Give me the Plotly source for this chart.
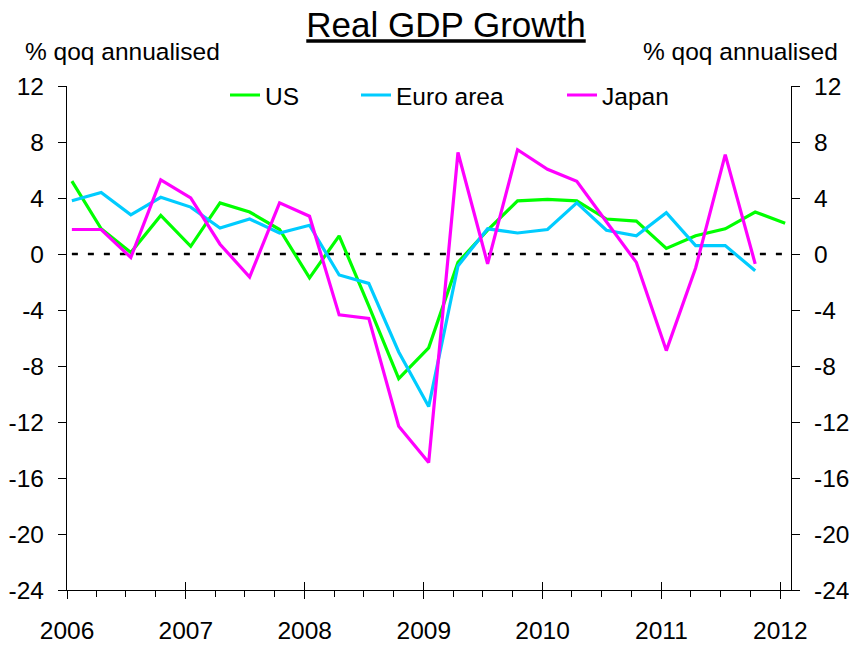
import pandas as pd
import plotly.graph_objects as go

# ---- data ----
quarters = ["2006Q1", "2006Q2", "2006Q3", "2006Q4",
            "2007Q1", "2007Q2", "2007Q3", "2007Q4",
            "2008Q1", "2008Q2", "2008Q3", "2008Q4",
            "2009Q1", "2009Q2", "2009Q3", "2009Q4",
            "2010Q1", "2010Q2", "2010Q3", "2010Q4",
            "2011Q1", "2011Q2", "2011Q3", "2011Q4",
            "2012Q1"]

us = [5.2, 1.8, 0.1, 2.75, 0.55, 3.65, 3.0, 1.75,
      -1.7, 1.3, -3.7, -8.9, -6.7, -0.6, 1.7, 3.8,
      3.9, 3.8, 2.5, 2.35, 0.4, 1.3, 1.8, 3.0, 2.2]

euro_area = [3.8, 4.4, 2.8, 4.05, 3.35, 1.85, 2.5, 1.5,
             2.05, -1.5, -2.1, -7.0, -10.9, -0.85, 1.8, 1.5,
             1.75, 3.65, 1.7, 1.3, 2.95, 0.6, 0.6, -1.2]

japan = [1.75, 1.75, -0.25, 5.3, 4.0, 0.7, -1.65, 3.65,
         2.7, -4.35, -4.6, -12.3, -14.9, 7.25, -0.7, 7.45,
         6.05, 5.2, 2.3, -0.6, -6.9, -1.0, 7.1, -0.7]

y_tickvals = [12, 8, 4, 0, -4, -8, -12, -16, -20, -24]
y_ticktext = ["12", "8", "4", "0", "-4", "-8", "-12", "-16", "-20", "-24"]

title_text = "Real GDP Growth"
axis_unit = "% qoq annualised"

# ---- build dates (quarter start + half month) ----
def q_to_date(q):
    y, n = int(q[:4]), int(q[5])
    return pd.Timestamp(year=y, month=3 * (n - 1) + 1, day=16)

dates = [q_to_date(q) for q in quarters]

FONT = "Liberation Sans, Arial, sans-serif"
FS = 24.5
BLACK = "#000000"

fig = go.Figure()

series = [("US", us, "#00FF00"), ("Euro area", euro_area, "#00CCFF"), ("Japan", japan, "#FF00FF")]
legends = ["legend", "legend2", "legend3"]
for (name, vals, col), lg in zip(series, legends):
    fig.add_trace(go.Scatter(x=dates[:len(vals)], y=vals, name=name, mode="lines",
                             line=dict(color=col, width=3.2), legend=lg))

# dummy trace to activate overlay axes (right y-axis, inner year ticks)
fig.add_trace(go.Scatter(x=[dates[0]], y=[None], xaxis="x2", yaxis="y2",
                         showlegend=False, hoverinfo="skip", mode="lines"))

# zero reference line spanning the data
fig.add_shape(type="line", xref="x", yref="y", x0=dates[0], x1=dates[-1], y0=0, y1=0,
              line=dict(color=BLACK, width=2.5, dash="6px,10px"), layer="below")

xrange = ["2006-01-01", "2012-02-03"]
yrange = [-24, 12]

common_x = dict(type="date", range=xrange, tick0="2006-01-01", dtick="M12",
                showgrid=False, zeroline=False, tickcolor=BLACK, tickwidth=1.3)

fig.update_layout(
    width=849, height=645,
    margin=dict(l=67, r=58, t=86, b=55, autoexpand=False),
    paper_bgcolor="white", plot_bgcolor="white",
    font=dict(family=FONT, size=FS, color=BLACK),
    title=dict(text="<u>" + title_text + "</u>", x=0.5235, xref="paper", xanchor="center",
               y=1 - 25 / 645, yref="container", yanchor="middle",
               font=dict(family=FONT, size=35, color=BLACK)),
    xaxis=dict(**common_x, tickformat="%Y", ticks="outside", ticklen=8,
               showline=True, linecolor=BLACK, linewidth=1.3,
               ticklabelstandoff=10,
               minor=dict(ticks="outside", ticklen=6, dtick="M3", tick0="2006-01-01",
                          tickcolor=BLACK, tickwidth=1.3, showgrid=False)),
    xaxis2=dict(**common_x, overlaying="x", anchor="y2", ticks="inside", ticklen=8,
                showticklabels=False, showline=False),
    yaxis=dict(range=yrange, tickvals=y_tickvals, ticktext=y_ticktext, ticks="outside",
               ticklen=8, tickcolor=BLACK, tickwidth=1.3, showline=True, linecolor=BLACK,
               linewidth=1.3, showgrid=False, zeroline=False, ticklabelstandoff=9),
    yaxis2=dict(range=yrange, tickvals=y_tickvals, ticktext=y_ticktext, ticks="outside",
                ticklen=8, tickcolor=BLACK, tickwidth=1.3, showline=True, linecolor=BLACK,
                linewidth=1.3, showgrid=False, zeroline=False, overlaying="y", side="right",
                anchor="x2", ticklabelstandoff=9),
    legend=dict(x=(225 - 67) / 724, y=0.982, xanchor="left", yanchor="middle",
                orientation="h", bgcolor="rgba(0,0,0,0)", font=dict(size=FS)),
    legend2=dict(x=(356 - 67) / 724, y=0.982, xanchor="left", yanchor="middle",
                 orientation="h", bgcolor="rgba(0,0,0,0)", font=dict(size=FS)),
    legend3=dict(x=(562 - 67) / 724, y=0.982, xanchor="left", yanchor="middle",
                 orientation="h", bgcolor="rgba(0,0,0,0)", font=dict(size=FS)),
    annotations=[
        dict(text=axis_unit, xref="paper", yref="paper", x=(23 - 67) / 724, y=(590 - 51) / 504,
             xanchor="left", yanchor="middle", showarrow=False, font=dict(size=FS)),
        dict(text=axis_unit, xref="paper", yref="paper", x=(840 - 67) / 724, y=(590 - 51) / 504,
             xanchor="right", yanchor="middle", showarrow=False, font=dict(size=FS)),
    ],
)

fig.write_html("out.html", config={"displayModeBar": False},
               post_script="document.body.style.margin='0';document.body.style.overflow='hidden';")
